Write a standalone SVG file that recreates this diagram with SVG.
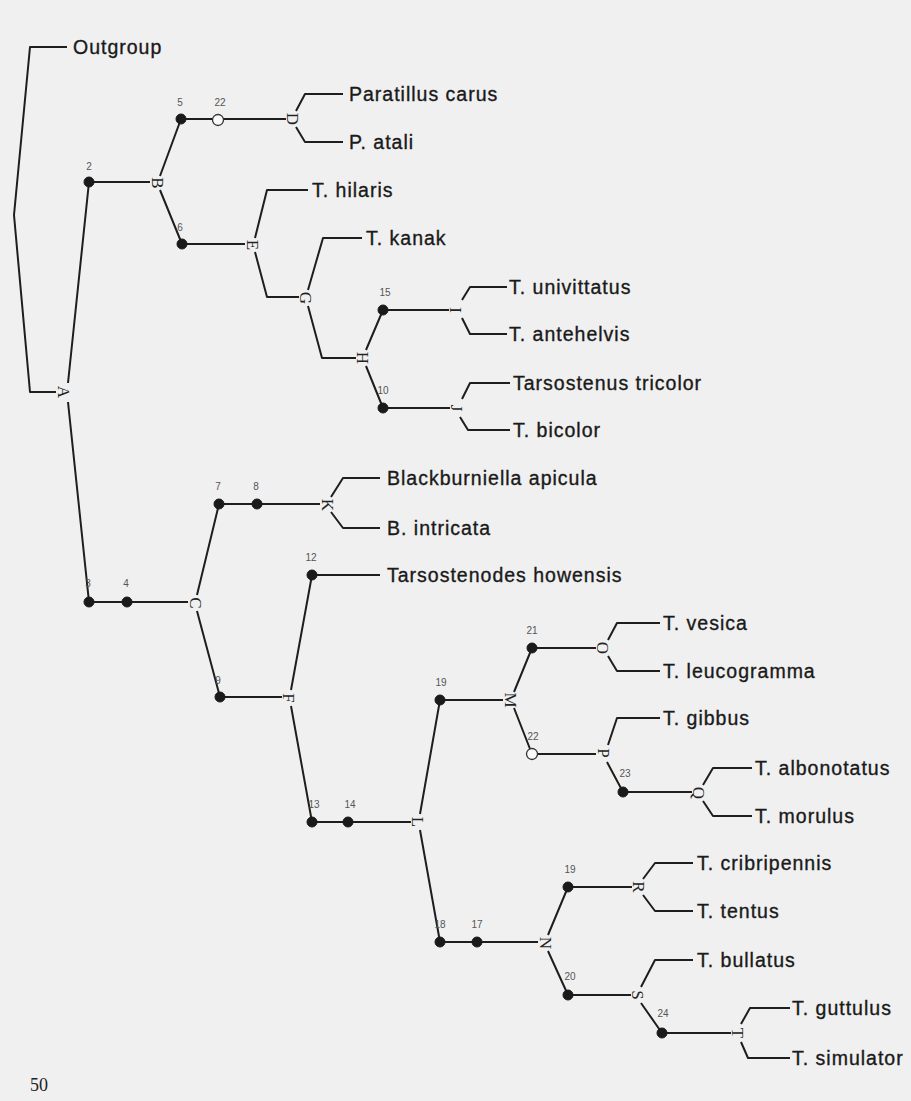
<svg xmlns="http://www.w3.org/2000/svg" width="911" height="1101" viewBox="0 0 911 1101">
<style>
.e{fill:none;stroke:#1e1e1e;stroke-width:2;stroke-linejoin:round}
.sp{font-family:"Liberation Sans",Arial,sans-serif;font-size:19.5px;letter-spacing:1px;fill:#1a1a1a;stroke:#1a1a1a;stroke-width:0.35}
.n{font-family:"Liberation Sans",Arial,sans-serif;font-size:10px;fill:#555;text-anchor:middle}
.lt{font-family:"Liberation Serif","Times New Roman",serif;font-size:17px;fill:#222;text-anchor:middle;dominant-baseline:central}
.d{fill:#1a1a1a;stroke:#1a1a1a;stroke-width:1}
.o{fill:#fafafa;stroke:#333;stroke-width:1.3}
</style>
<rect width="911" height="1101" fill="#f0f0f0"/>
<g id="connectors">
<path class="e" d="M67,47 H30 L14,215 L30,392 H56"/>
<path class="e" d="M68,383 L89,182 H150"/>
<path class="e" d="M68,402 L89,602 H188"/>
<path class="e" d="M160,176 L181,119 H286"/>
<path class="e" d="M160,190 L182,244 H245"/>
<path class="e" d="M296,111 L305,94 H343"/>
<path class="e" d="M296,127 L305,142 H343"/>
<path class="e" d="M255,238 L267,190 H308"/>
<path class="e" d="M255,252 L267,297 H299"/>
<path class="e" d="M308,290 L323,238 H362"/>
<path class="e" d="M308,306 L322,358 H356"/>
<path class="e" d="M366,350 L383,310 H449"/>
<path class="e" d="M366,366 L383,408 H450"/>
<path class="e" d="M462,300 L470,287 H507"/>
<path class="e" d="M462,318 L470,334 H507"/>
<path class="e" d="M462,399 L470,383 H510"/>
<path class="e" d="M460,417 L468,430 H510"/>
<path class="e" d="M197,595 L219,504 H320"/>
<path class="e" d="M197,611 L220,697 H282"/>
<path class="e" d="M331,497 L343,478 H380"/>
<path class="e" d="M331,512 L343,528 H380"/>
<path class="e" d="M291,690 L312,575 H380"/>
<path class="e" d="M291,706 L312,822 H411"/>
<path class="e" d="M420,814 L440,700 H503"/>
<path class="e" d="M420,830 L440,942 H538"/>
<path class="e" d="M514,692 L532,648 H596"/>
<path class="e" d="M514,708 L532,754 H596"/>
<path class="e" d="M608,640 L617,623 H660"/>
<path class="e" d="M608,656 L617,671 H660"/>
<path class="e" d="M608,745 L617,718 H660"/>
<path class="e" d="M607,762 L623,792 H692"/>
<path class="e" d="M703,785 L713,768 H752"/>
<path class="e" d="M703,801 L713,816 H752"/>
<path class="e" d="M548,935 L568,887 H632"/>
<path class="e" d="M548,951 L568,995 H631"/>
<path class="e" d="M643,879 L655,863 H693"/>
<path class="e" d="M643,895 L655,911 H693"/>
<path class="e" d="M641,987 L655,960 H693"/>
<path class="e" d="M641,1003 L662,1033 H731"/>
<path class="e" d="M741,1024 L750,1008 H790"/>
<path class="e" d="M741,1042 L748,1058 H790"/>
</g>
<g id="node-A"><text class="lt" transform="translate(63,392) rotate(90)">A</text></g>
<g id="node-B"><text class="lt" transform="translate(157,183) rotate(90)">B</text></g>
<g id="node-C"><text class="lt" transform="translate(195,603) rotate(90)">C</text></g>
<g id="node-D"><text class="lt" transform="translate(292,119) rotate(90)">D</text></g>
<g id="node-E"><text class="lt" transform="translate(252,245) rotate(90)">E</text></g>
<g id="node-F"><text class="lt" transform="translate(288,698) rotate(90)">F</text></g>
<g id="node-G"><text class="lt" transform="translate(305,298) rotate(90)">G</text></g>
<g id="node-H"><text class="lt" transform="translate(362,358) rotate(90)">H</text></g>
<g id="node-I"><text class="lt" transform="translate(455,310) rotate(90)">I</text></g>
<g id="node-J"><text class="lt" transform="translate(456,408) rotate(90)">J</text></g>
<g id="node-K"><text class="lt" transform="translate(327,505) rotate(90)">K</text></g>
<g id="node-L"><text class="lt" transform="translate(417,822) rotate(90)">L</text></g>
<g id="node-M"><text class="lt" transform="translate(510,700) rotate(90)">M</text></g>
<g id="node-N"><text class="lt" transform="translate(545,943) rotate(90)">N</text></g>
<g id="node-O"><text class="lt" transform="translate(602,648) rotate(90)">O</text></g>
<g id="node-P"><text class="lt" transform="translate(603,753) rotate(90)">P</text></g>
<g id="node-Q"><text class="lt" transform="translate(698,793) rotate(90)">Q</text></g>
<g id="node-R"><text class="lt" transform="translate(638,887) rotate(90)">R</text></g>
<g id="node-S"><text class="lt" transform="translate(637,995) rotate(90)">S</text></g>
<g id="node-T"><text class="lt" transform="translate(737,1033) rotate(90)">T</text></g>
<g id="char-2"><circle class="d" cx="89" cy="182" r="5"/><text class="n" x="89" y="170">2</text></g>
<g id="char-5"><circle class="d" cx="181" cy="119" r="5"/><text class="n" x="180" y="106">5</text></g>
<g id="char-22a"><circle class="o" cx="218" cy="120" r="5.5"/><text class="n" x="220" y="106">22</text></g>
<g id="char-6"><circle class="d" cx="182" cy="244" r="5"/><text class="n" x="180" y="231">6</text></g>
<g id="char-15"><circle class="d" cx="383" cy="310" r="5"/><text class="n" x="385" y="296">15</text></g>
<g id="char-10"><circle class="d" cx="383" cy="408" r="5"/><text class="n" x="383" y="394">10</text></g>
<g id="char-3"><circle class="d" cx="89" cy="602" r="5"/><text class="n" x="88" y="587">3</text></g>
<g id="char-4"><circle class="d" cx="127" cy="602" r="5"/><text class="n" x="126" y="587">4</text></g>
<g id="char-7"><circle class="d" cx="219" cy="504" r="5"/><text class="n" x="218" y="490">7</text></g>
<g id="char-8"><circle class="d" cx="257" cy="504" r="5"/><text class="n" x="256" y="490">8</text></g>
<g id="char-9"><circle class="d" cx="220" cy="697" r="5"/><text class="n" x="218" y="684">9</text></g>
<g id="char-12"><circle class="d" cx="312" cy="575" r="5"/><text class="n" x="311" y="561">12</text></g>
<g id="char-13"><circle class="d" cx="312" cy="822" r="5"/><text class="n" x="314" y="808">13</text></g>
<g id="char-14"><circle class="d" cx="348" cy="822" r="5"/><text class="n" x="350" y="808">14</text></g>
<g id="char-19a"><circle class="d" cx="440" cy="700" r="5"/><text class="n" x="441" y="686">19</text></g>
<g id="char-21"><circle class="d" cx="532" cy="648" r="5"/><text class="n" x="532" y="634">21</text></g>
<g id="char-22b"><circle class="o" cx="532" cy="754" r="5.5"/><text class="n" x="533" y="740">22</text></g>
<g id="char-23"><circle class="d" cx="623" cy="792" r="5"/><text class="n" x="625" y="777">23</text></g>
<g id="char-18"><circle class="d" cx="440" cy="942" r="5"/><text class="n" x="440" y="928">18</text></g>
<g id="char-17"><circle class="d" cx="477" cy="942" r="5"/><text class="n" x="477" y="928">17</text></g>
<g id="char-19b"><circle class="d" cx="568" cy="887" r="5"/><text class="n" x="570" y="873">19</text></g>
<g id="char-20"><circle class="d" cx="568" cy="995" r="5"/><text class="n" x="570" y="980">20</text></g>
<g id="char-24"><circle class="d" cx="662" cy="1033" r="5"/><text class="n" x="663" y="1017">24</text></g>
<g id="leaf-outgroup"><text class="sp" x="73" y="54">Outgroup</text></g>
<g id="leaf-paratillus-carus"><text class="sp" x="349" y="101">Paratillus carus</text></g>
<g id="leaf-p-atali"><text class="sp" x="349" y="149">P. atali</text></g>
<g id="leaf-t-hilaris"><text class="sp" x="312" y="197">T. hilaris</text></g>
<g id="leaf-t-kanak"><text class="sp" x="366" y="245">T. kanak</text></g>
<g id="leaf-t-univittatus"><text class="sp" x="509" y="294">T. univittatus</text></g>
<g id="leaf-t-antehelvis"><text class="sp" x="509" y="341">T. antehelvis</text></g>
<g id="leaf-tarsostenus-tricolor"><text class="sp" x="513" y="390">Tarsostenus tricolor</text></g>
<g id="leaf-t-bicolor"><text class="sp" x="513" y="437">T. bicolor</text></g>
<g id="leaf-blackburniella-apicula"><text class="sp" x="387" y="485">Blackburniella apicula</text></g>
<g id="leaf-b-intricata"><text class="sp" x="387" y="535">B. intricata</text></g>
<g id="leaf-tarsostenodes-howensis"><text class="sp" x="387" y="582">Tarsostenodes howensis</text></g>
<g id="leaf-t-vesica"><text class="sp" x="663" y="630">T. vesica</text></g>
<g id="leaf-t-leucogramma"><text class="sp" x="663" y="678">T. leucogramma</text></g>
<g id="leaf-t-gibbus"><text class="sp" x="663" y="725">T. gibbus</text></g>
<g id="leaf-t-albonotatus"><text class="sp" x="755" y="775">T. albonotatus</text></g>
<g id="leaf-t-morulus"><text class="sp" x="755" y="823">T. morulus</text></g>
<g id="leaf-t-cribripennis"><text class="sp" x="697" y="870">T. cribripennis</text></g>
<g id="leaf-t-tentus"><text class="sp" x="697" y="918">T. tentus</text></g>
<g id="leaf-t-bullatus"><text class="sp" x="697" y="967">T. bullatus</text></g>
<g id="leaf-t-guttulus"><text class="sp" x="792" y="1015">T. guttulus</text></g>
<g id="leaf-t-simulator"><text class="sp" x="792" y="1065">T. simulator</text></g>
<text x="30" y="1091" font-family="Liberation Serif, Times New Roman, serif" font-size="18" fill="#222">50</text>
</svg>
